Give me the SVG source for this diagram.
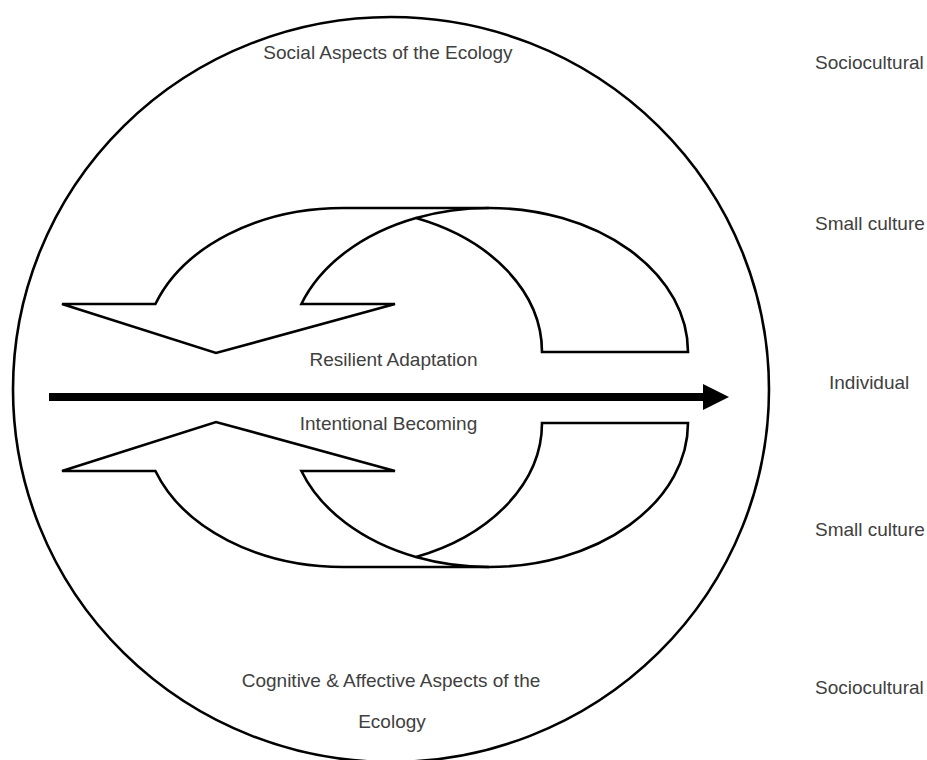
<svg xmlns="http://www.w3.org/2000/svg" width="927" height="760" viewBox="0 0 927 760">
  <style>
    .shape { fill: #ffffff; stroke: #000000; stroke-width: 2.6; stroke-linejoin: miter; }
    .line { fill: none; stroke: #000000; stroke-width: 2.6; }
    .lbl { font-family: "Liberation Sans", Arial, sans-serif; font-size: 19px; fill: #404040; }
    .mid { text-anchor: middle; }
  </style>
  <defs>
    <marker id="ah" markerUnits="userSpaceOnUse" markerWidth="26" markerHeight="26" refX="0" refY="13" orient="auto">
      <path d="M0,0 L26,13 L0,26 Z" fill="#000000"/>
    </marker>
    <g id="curved">
      <path class="shape" d="M542,352 L688,352 A199,144 0 0 0 489,208 L343,208 A199,144 0 0 0 155.4,304 L62,304 L216,353 L395,304 L301.4,304 A199,144 0 0 1 416,218 A199,144 0 0 1 542,352 Z"/>
      <path class="line" d="M416,218 A199,144 0 0 1 489,208"/>
    </g>
  </defs>

  <g id="ecology">
    <ellipse cx="391" cy="389.5" rx="378" ry="372.5" fill="#ffffff" stroke="#000000" stroke-width="2.6"/>
    <text class="lbl mid" x="388" y="59">Social Aspects of the Ecology</text>
    <text class="lbl mid" x="391" y="687">Cognitive &amp; Affective Aspects of the</text>
    <text class="lbl mid" x="392" y="728">Ecology</text>
  </g>

  <g id="resilient-adaptation">
    <use href="#curved"/>
    <text class="lbl mid" x="393.5" y="366">Resilient Adaptation</text>
  </g>

  <g id="intentional-becoming">
    <use href="#curved" transform="translate(0,775) scale(1,-1)"/>
    <text class="lbl mid" x="388.5" y="430">Intentional Becoming</text>
  </g>

  <g id="connectors">
    <line x1="49" y1="397" x2="703" y2="397" stroke="#000000" stroke-width="8" marker-end="url(#ah)"/>
  </g>

  <g id="levels">
    <text class="lbl" x="815" y="69">Sociocultural</text>
    <text class="lbl" x="815" y="230">Small culture</text>
    <text class="lbl" x="829" y="389">Individual</text>
    <text class="lbl" x="815" y="536">Small culture</text>
    <text class="lbl" x="815" y="694">Sociocultural</text>
  </g>
</svg>
